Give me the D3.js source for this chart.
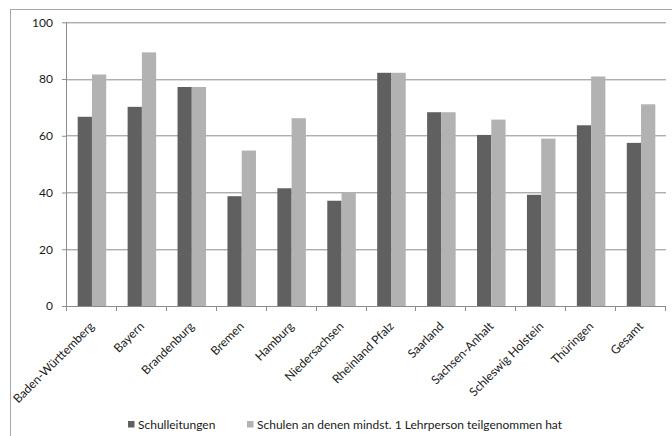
<!DOCTYPE html>
<html>
<head>
<meta charset="utf-8">
<script src="https://cdn.jsdelivr.net/npm/d3@7"></script>
<style>
  html, body { margin: 0; padding: 0; background: #fff; }
  svg { display: block; }
  text { font-family: Lato, "Open Sans", sans-serif; fill: #1a1a1a; }
</style>
</head>
<body>
<svg id="chart" width="672" height="436"></svg>
<script>
// Teilnahmequoten je Bundesland (in %)
const categories = ["Baden-Württemberg", "Bayern", "Brandenburg", "Bremen", "Hamburg",
  "Niedersachsen", "Rheinland Pfalz", "Saarland", "Sachsen-Anhalt", "Schleswig Holstein",
  "Thüringen", "Gesamt"];
const seriesNames = ["Schulleitungen", "Schulen an denen mindst. 1 Lehrperson teilgenommen hat"];
const schulleitungen = [66.7, 70.2, 77.2, 38.7, 41.5, 37.1, 82.2, 68.3, 60.3, 39.2, 63.7, 57.5];
const schulenMitLehrperson = [81.6, 89.4, 77.2, 54.8, 66.2, 40.0, 82.2, 68.3, 65.7, 59.0, 80.9, 71.1];
const yTicks = [0, 20, 40, 60, 80, 100];
const colors = ["#606060", "#b2b2b2"];

const svg = d3.select("#chart");
const margin = { left: 67, right: 6, top: 22.3, bottom: 130 };
const W = 672, H = 436;
const plotW = W - margin.left - margin.right;
const plotH = 306 - margin.top;

// outer chart frame
svg.append("rect")
  .attr("x", 10.5).attr("y", 9.5)
  .attr("width", 680).attr("height", 440)
  .attr("fill", "none").attr("stroke", "#a6a6a6").attr("stroke-width", 1);

const g = svg.append("g").attr("transform", `translate(${margin.left},${margin.top})`);

const x = d3.scaleBand().domain(categories).range([0, plotW]).paddingInner(0).paddingOuter(0);
const xInner = d3.scaleBand().domain([0, 1]).range([0, x.bandwidth()]).paddingInner(0).paddingOuter(0.75);
const y = d3.scaleLinear().domain([0, 100]).range([plotH, 0]);

// horizontal gridlines
g.append("g").selectAll("line").data(yTicks.slice(1)).join("line")
  .attr("x1", 0).attr("x2", plotW)
  .attr("y1", d => Math.round(y(d)) + 0.5).attr("y2", d => Math.round(y(d)) + 0.5)
  .attr("stroke", "#8c8c8c").attr("stroke-width", 1);

// bars
const rows = categories.map((c, i) => ({ c, v: [schulleitungen[i], schulenMitLehrperson[i]] }));
const grp = g.selectAll("g.cat").data(rows).join("g")
  .attr("class", "cat")
  .attr("transform", d => `translate(${x(d.c)},0)`);
grp.selectAll("rect").data(d => d.v.map((v, k) => ({ v, k }))).join("rect")
  .attr("x", d => xInner(d.k))
  .attr("width", xInner.bandwidth())
  .attr("y", d => y(d.v))
  .attr("height", d => y(0) - y(d.v))
  .attr("fill", d => colors[d.k]);

// y axis
const yAxis = g.append("g")
  .call(d3.axisLeft(y).tickValues(yTicks).tickSize(5).tickPadding(9).tickFormat(d3.format("d")));
yAxis.select(".domain").attr("stroke", "#8c8c8c").attr("d", `M-0.5,${plotH}V0`);
yAxis.selectAll(".tick line").attr("stroke", "#8c8c8c");
yAxis.selectAll("text").style("font-size", "12px").attr("fill", "#1a1a1a");

// x axis with ticks between categories
const xAxis = g.append("g").attr("transform", `translate(0,${plotH})`);
const boundaries = d3.range(categories.length + 1).map(i => i * x.step());
xAxis.append("line").attr("x1", -5).attr("x2", plotW).attr("y1", 0.5).attr("y2", 0.5)
  .attr("stroke", "#8c8c8c");
xAxis.selectAll("line.tk").data(boundaries).join("line")
  .attr("class", "tk")
  .attr("x1", d => Math.round(d) - 0.5).attr("x2", d => Math.round(d) - 0.5)
  .attr("y1", 0).attr("y2", 5).attr("stroke", "#8c8c8c");
xAxis.selectAll("text").data(categories).join("text")
  .attr("transform", d => `translate(${x(d) + x.bandwidth() / 2 - 3},${15}) rotate(-45)`)
  .attr("text-anchor", "end")
  .attr("dy", "0.71em")
  .style("font-size", "12px")
  .text(d => d);

// legend
const legend = svg.append("g").attr("transform", "translate(128,421)");
const legendX = [0, 119];
seriesNames.forEach((name, k) => {
  const item = legend.append("g").attr("transform", `translate(${legendX[k]},0)`);
  item.append("rect").attr("width", 6.5).attr("height", 6.5).attr("fill", colors[k]);
  item.append("text").attr("x", 10).attr("y", 8).style("font-size", "12px").text(name);
});
</script>
</body>
</html>
